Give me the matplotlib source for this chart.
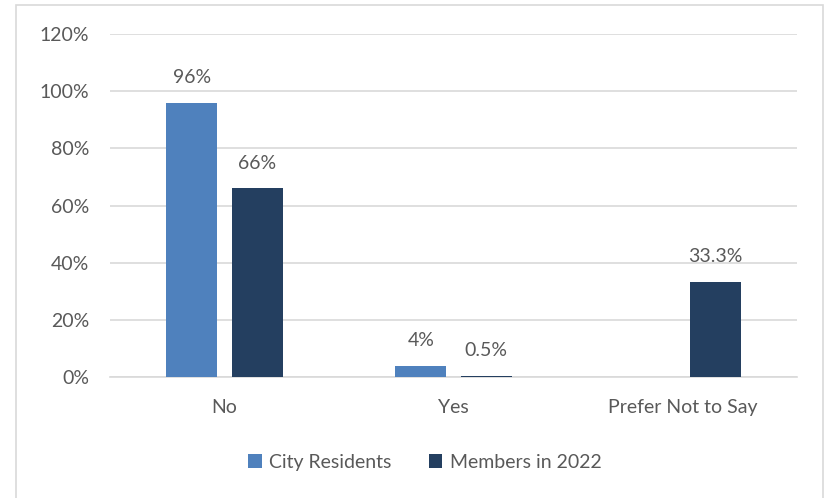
import numpy as np
import matplotlib
matplotlib.use("Agg")
import matplotlib.pyplot as plt
from matplotlib.patches import Rectangle

# ---------- DATA ----------
categories = ["No", "Yes", "Prefer Not to Say"]
city_residents = [96, 4, 0]
members_2022 = [66, 0.5, 33.3]
series_names = ["City Residents", "Members in 2022"]
yticks = [0, 20, 40, 60, 80, 100, 120]

c_city = "#4F81BD"
c_members = "#243F60"
text_col = "#595959"
grid_col = "#D9D9D9"
fs = 14

plt.rcParams['font.family'] = ['Lato', 'DejaVu Sans']

fig = plt.figure(figsize=(8.24, 4.98), dpi=100)
ax = fig.add_axes([110/824, 1-377/498, (797-110)/824, (377-34)/498])

# outer chart frame
fig.patches.append(Rectangle((16/824, -0.05), (822.5-16)/824, 1.05-5.5/498,
                             transform=fig.transFigure, fill=False,
                             edgecolor=grid_col, linewidth=1.2))

x = np.arange(len(categories))
w = 0.222
off = 0.143
b1 = ax.bar(x - off, city_residents, w, color=c_city, label=series_names[0], zorder=3)
b2 = ax.bar(x + off, members_2022, w, color=c_members, label=series_names[1], zorder=3)

for bars, vals in [(b1, city_residents), (b2, members_2022)]:
    for rect, v in zip(bars, vals):
        if v == 0:
            continue
        ax.annotate(f"{v:g}%", (rect.get_x() + rect.get_width()/2, v),
                    xytext=(0, 18), textcoords="offset points",
                    ha="center", va="center", fontsize=fs, color=text_col)

ax.set_xlim(-0.5, 2.5)
ax.set_ylim(0, 120)
ax.set_yticks(yticks)
ax.set_yticklabels([f"{t}%" for t in yticks])
ax.set_xticks(x)
ax.set_xticklabels(categories)
ax.tick_params(axis="both", length=0, labelsize=fs, colors=text_col)
ax.tick_params(axis="y", pad=15)
ax.tick_params(axis="x", pad=16)
ax.grid(axis="y", color=grid_col, linewidth=1.2, zorder=0)
for s in ["top", "right", "left"]:
    ax.spines[s].set_visible(False)
ax.spines["bottom"].set_color(grid_col)
ax.spines["bottom"].set_linewidth(1.2)

leg = fig.legend(loc="center", bbox_to_anchor=(425/824, 1-462/498), ncol=2,
                 frameon=False, fontsize=fs, handlelength=0.7, handleheight=0.7,
                 handletextpad=0.4, columnspacing=1.9)
for t in leg.get_texts():
    t.set_color(text_col)

plt.savefig("out.png")
